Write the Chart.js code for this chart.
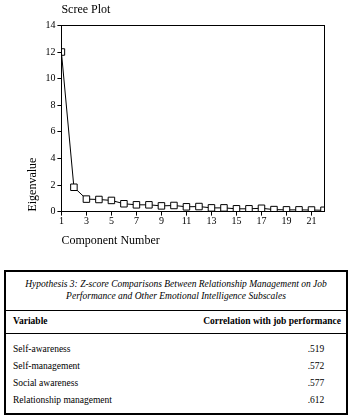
<!DOCTYPE html>
<html>
<head>
<meta charset="utf-8">
<script src="https://cdn.jsdelivr.net/npm/chart.js@4.4.0/dist/chart.umd.min.js"></script>
<style>
body { margin: 0; background: #fff; width: 354px; height: 418px; position: relative; overflow: hidden; font-family: 'Liberation Serif', 'Times New Roman', serif; color: #000; }
#chart-wrap { position: absolute; left: 0; top: 0; width: 354px; height: 258px; }
#tbl { position: absolute; left: 4px; top: 270px; width: 340px; height: 141px; border: 2px solid #000; }
#tbl div { position: absolute; white-space: nowrap; }
.cap { left: 0; width: 340px; text-align: center; font-style: italic; font-size: 9.5px; }
.rule { left: 0; width: 340px; height: 0; border-top: 1px solid #000; }
.hd { font-weight: bold; font-size: 9.5px; }
.cell { font-size: 9.5px; }
.num { left: 290px; width: 40px; text-align: center; font-size: 9.5px; }
</style>
</head>
<body>
<div id="chart-wrap"><canvas id="scree" width="354" height="258"></canvas></div>
<div id="tbl"></div>
<script>
/* scree plot values */
const components = [1, 2, 3, 4, 5, 6, 7, 8, 9, 10, 11, 12, 13, 14, 15, 16, 17, 18, 19, 20, 21, 22];
const eigenvalues = [12.0, 1.83, 0.94, 0.91, 0.84, 0.59, 0.51, 0.51, 0.43, 0.46, 0.36, 0.38, 0.28, 0.28, 0.21, 0.21, 0.25, 0.15, 0.13, 0.13, 0.12, 0.10];
const xTicks = [1, 3, 5, 7, 9, 11, 13, 15, 17, 19, 21];
const yTicks = [0, 2, 4, 6, 8, 10, 12, 14];

/* table values */
const captionLines = ['Hypothesis 3: Z-score Comparisons Between Relationship Management on Job',
    'Performance and Other Emotional Intelligence Subscales'];
const headers = ['Variable', 'Correlation with job performance'];
const variables = ['Self-awareness', 'Self-management', 'Social awareness', 'Relationship management'];
const correlations = ['.519', '.572', '.577', '.612'];

const serif = "'Liberation Serif', 'Times New Roman', serif";

// box around the plot area (top + right edges)
const frame = {
    id: 'frame',
    afterDraw(chart) {
        const a = chart.chartArea;
        const c = chart.ctx;
        c.save();
        c.strokeStyle = '#000';
        c.lineWidth = 1;
        c.strokeRect(Math.round(a.left) + 0.5, Math.round(a.top) + 0.5, Math.round(a.right - a.left), Math.round(a.bottom - a.top));
        c.restore();
    }
};

const ctx = document.querySelector('#scree').getContext('2d');
const chart = new Chart(ctx, {
    type: 'scatter',
    data: {
        datasets: [{
            data: components.map((c, i) => ({ x: c, y: eigenvalues[i] })),
            showLine: true,
            borderColor: '#000',
            borderWidth: 1,
            backgroundColor: '#fff',
            pointStyle: 'rect',
            pointRadius: 4.6,
            pointBorderWidth: 1,
            pointBorderColor: '#000',
            pointBackgroundColor: '#fff'
        }]
    },
    options: {
        responsive: false,
        animation: false,
        layout: { padding: { left: 26, right: 30, top: 0, bottom: 10 } },
        plugins: {
            legend: { display: false },
            tooltip: { enabled: false },
            title: {
                display: true,
                text: 'Scree Plot',
                align: 'start',
                fullSize: false,
                color: '#000',
                font: { family: serif, size: 12, weight: 'normal' },
                padding: { top: 3, bottom: 8 }
            }
        },
        scales: {
            x: {
                type: 'linear',
                min: 1,
                max: 22,
                afterBuildTicks: axis => { axis.ticks = xTicks.map(v => ({ value: v })); },
                grid: { drawOnChartArea: false, drawTicks: true, tickLength: 4, color: '#000' },
                border: { color: '#000', width: 1 },
                ticks: { color: '#000', font: { family: serif, size: 10 }, padding: 0, maxRotation: 0, autoSkip: false },
                title: { display: true, text: 'Component Number', align: 'start', color: '#000', font: { family: serif, size: 12 }, padding: { top: 6, bottom: 0 } }
            },
            y: {
                min: 0,
                max: 14,
                afterBuildTicks: axis => { axis.ticks = yTicks.map(v => ({ value: v })); },
                grid: { drawOnChartArea: false, drawTicks: true, tickLength: 4, color: '#000' },
                border: { color: '#000', width: 1 },
                ticks: { color: '#000', font: { family: serif, size: 10 }, padding: 2 },
                title: { display: true, text: 'Eigenvalue', align: 'start', color: '#000', font: { family: serif, size: 12 }, padding: { top: 0, bottom: 3 } }
            }
        }
    },
    plugins: [frame]
});
</script>
<script>
const tbl = document.querySelector('#tbl');
function put(cls, text, top, left) {
    const d = document.createElement('div');
    d.className = cls;
    d.textContent = text;
    d.style.top = top + 'px';
    if (left !== undefined) d.style.left = left + 'px';
    tbl.appendChild(d);
}
captionLines.forEach((t, i) => put('cap', t, 7 + i * 12));
put('rule', '', 38);
put('hd', headers[0], 44, 7);
const h2 = document.createElement('div');
h2.className = 'hd';
h2.textContent = headers[1];
h2.style.top = '44px';
h2.style.right = '5px';
tbl.appendChild(h2);
put('rule', '', 61);
variables.forEach((v, i) => {
    put('cell', v, 72 + i * 17, 7);
    put('num', correlations[i], 72 + i * 17);
});
</script>
</body>
</html>
